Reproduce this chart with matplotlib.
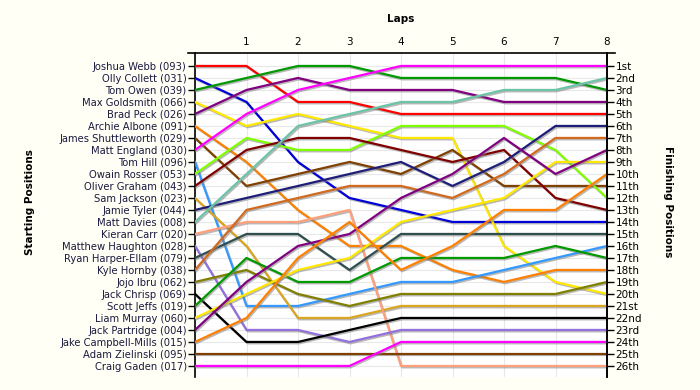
import matplotlib
matplotlib.use("Agg")
import matplotlib.pyplot as plt
import matplotlib.patheffects as pe
from matplotlib.lines import Line2D

laps = [0, 1, 2, 3, 4, 5, 6, 7, 8]

drivers = [
    "Joshua Webb (093)", "Olly Collett (031)", "Tom Owen (039)", "Max Goldsmith (066)",
    "Brad Peck (026)", "Archie Albone (091)", "James Shuttleworth (029)", "Matt England (030)",
    "Tom Hill (096)", "Owain Rosser (053)", "Oliver Graham (043)", "Sam Jackson (023)",
    "Jamie Tyler (044)", "Matt Davies (008)", "Kieran Carr (020)", "Matthew Haughton (028)",
    "Ryan Harper-Ellam (079)", "Kyle Hornby (038)", "Jojo Ibru (062)", "Jack Chrisp (069)",
    "Scott Jeffs (019)", "Liam Murray (060)", "Jack Partridge (004)", "Jake Campbell-Mills (015)",
    "Adam Zielinski (095)", "Craig Gaden (017)",
]

positions = [
    [1, 1, 4, 4, 5, 5, 5, 5, 5],
    [2, 4, 9, 12, 13, 14, 14, 14, 14],
    [3, 2, 1, 1, 2, 2, 2, 2, 3],
    [4, 6, 5, 6, 7, 7, 16, 19, 20],
    [5, 3, 2, 3, 3, 3, 4, 4, 4],
    [6, 9, 13, 16, 16, 18, 19, 18, 18],
    [7, 11, 10, 9, 10, 8, 11, 11, 11],
    [8, 5, 3, 2, 1, 1, 1, 1, 1],
    [9, 21, 21, 20, 19, 19, 18, 17, 16],
    [10, 7, 8, 8, 6, 6, 6, 8, 12],
    [11, 8, 7, 7, 8, 9, 8, 12, 13],
    [12, 16, 22, 22, 21, 21, 21, 21, 21],
    [13, 12, 11, 10, 9, 11, 9, 6, 6],
    [14, 10, 6, 5, 4, 4, 3, 3, 2],
    [15, 14, 14, 13, 26, 26, 26, 26, 26],
    [16, 23, 23, 24, 23, 23, 23, 23, 23],
    [17, 15, 15, 18, 15, 15, 15, 15, 15],
    [18, 13, 12, 11, 11, 12, 10, 7, 7],
    [19, 18, 20, 21, 20, 20, 20, 20, 19],
    [20, 24, 24, 23, 22, 22, 22, 22, 22],
    [21, 17, 19, 19, 17, 17, 17, 16, 17],
    [22, 20, 18, 17, 14, 13, 12, 9, 9],
    [23, 19, 16, 15, 12, 10, 7, 10, 8],
    [24, 22, 17, 14, 18, 16, 13, 13, 10],
    [25, 25, 25, 25, 25, 25, 25, 25, 25],
    [26, 26, 26, 26, 24, 24, 24, 24, 24],
]

colors = [
    "#FF0000", "#0000D8", "#009900", "#FFE800", "#800080", "#FF8000", "#804000", "#FF00FF",
    "#3399FF", "#80FF00", "#800000", "#DAA520", "#1E1E78", "#6CC4A8", "#FFA07A", "#9370DB",
    "#2F4F4F", "#D2691E", "#808000", "#000000", "#009900", "#FFE800", "#800080", "#FF8000",
    "#804000", "#FF00FF",
]

finish_labels = ["1st", "2nd", "3rd"] + [f"{i}th" for i in range(4, 21)] + \
    ["21st", "22nd", "23rd", "24th", "25th", "26th"]

W, H = 700, 390
fig = plt.figure(figsize=(7, 3.9), dpi=100, facecolor="#FFFFF5")
ax = fig.add_axes([195 / W, 1 - 377 / H, 412 / W, 324 / H])
ax.set_facecolor("white")

shadow = [pe.SimpleLineShadow(offset=(0.8, -1.0), shadow_color="#808080", alpha=0.55),
          pe.Normal()]
for pos, col in zip(positions, colors):
    ax.plot(laps, pos, color=col, lw=1.6, path_effects=shadow, zorder=3)

ax.set_xlim(0, 8)
ax.set_ylim(26.92, -0.08)

ax.xaxis.tick_top()
ax.set_xticks(laps)
ax.set_xticklabels([""] + [str(l) for l in laps[1:]], fontsize=7.5, color="#000000")
ax.tick_params(axis="x", length=0, pad=4)

ax.set_yticks(range(1, 27))
ax.set_yticklabels(drivers, fontsize=7.2, color="#1A1A40")
ax.tick_params(axis="y", length=5, width=1, pad=1)

ax.grid(True, color="#E8E8E8", lw=0.8, zorder=0)
ax.set_axisbelow(True)

for s in ["top", "bottom"]:
    ax.spines[s].set_visible(False)
ax.spines["left"].set_linewidth(1.2)
ax.spines["right"].set_linewidth(1.2)

ax2 = ax.twinx()
ax2.set_ylim(ax.get_ylim())
ax2.set_yticks(range(1, 27))
ax2.set_yticklabels(finish_labels, fontsize=7.5, color="#000000")
ax2.tick_params(axis="y", length=5, width=1, pad=1)
for s in ["top", "bottom", "left"]:
    ax2.spines[s].set_visible(False)
ax2.spines["right"].set_linewidth(1.2)

top_line = Line2D([188 / W, 615 / W], [1 - 53 / H, 1 - 53 / H], transform=fig.transFigure,
                  color="black", lw=1.2)
fig.add_artist(top_line)

fig.text(401 / W, 1 - 19 / H, "Laps", ha="center", va="center", fontsize=7.5, weight="bold")
fig.text(30 / W, 1 - 202 / H, "Starting Positions", ha="center", va="center",
         rotation=90, fontsize=7.5, weight="bold")
fig.text(668 / W, 1 - 202 / H, "Finishing Positions", ha="center", va="center",
         rotation=270, fontsize=7.5, weight="bold")

fig.savefig("out.png", dpi=100, facecolor=fig.get_facecolor())
